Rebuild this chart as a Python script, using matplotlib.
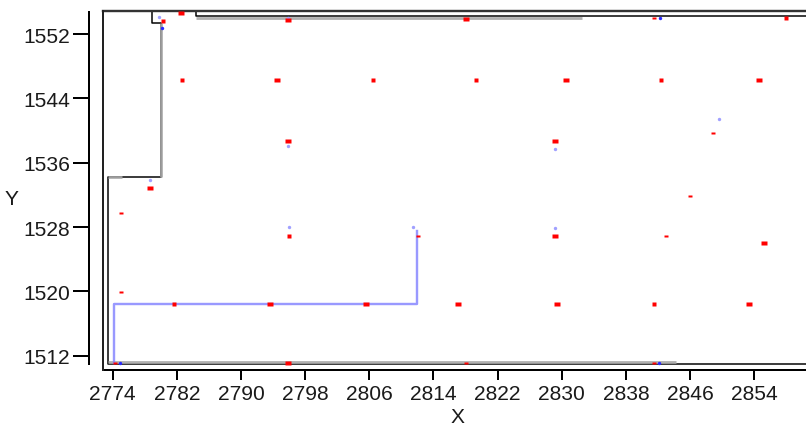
import matplotlib
matplotlib.use("Agg")
import matplotlib.pyplot as plt
import numpy as np

plt.rcParams['font.family'] = ['Liberation Sans', 'DejaVu Sans']

# ---- data ----
x_ticks = [2774, 2782, 2790, 2798, 2806, 2814, 2822, 2830, 2838, 2846, 2854]
y_ticks = [1512, 1520, 1528, 1536, 1544, 1552]

# red points: x, y, kind (w = wide, s = square, d = dash)
red_x = [2782.5, 2780.3, 2782.6, 2794.5, 2806.4, 2795.9, 2795.9, 2778.6,
         2818.05, 2841.5, 2857.9, 2819.3, 2830.5, 2842.4, 2854.55, 2848.9,
         2829.1, 2846.0, 2775.0, 2796.0, 2812.1, 2775.0, 2781.7, 2793.6,
         2805.6, 2774.3, 2795.9, 2829.15, 2843.0, 2855.25, 2817.1, 2829.4,
         2841.5, 2853.4, 2818.05, 2841.5]
red_y = [1554.6, 1553.6, 1546.3, 1546.3, 1546.3, 1538.7, 1553.8, 1532.9,
         1553.9, 1554.0, 1554.0, 1546.3, 1546.3, 1546.3, 1546.3, 1539.7,
         1538.7, 1531.9, 1529.8, 1526.9, 1526.85, 1519.9, 1518.4, 1518.4,
         1518.4, 1511.1, 1511.05, 1526.9, 1526.85, 1526.0, 1518.4, 1518.4,
         1518.4, 1518.4, 1511.1, 1511.1]
red_kind = ['w', 's', 's', 'w', 's', 'w', 'w', 'w',
            'w', 'd', 's', 's', 'w', 's', 'w', 'd',
            'w', 'd', 'd', 's', 'd', 'd', 's', 'w',
            'w', 'd', 'w', 'w', 'd', 'w', 'w', 'w',
            's', 'w', 'd', 'd']

blue_x = [2779.8, 2780.1, 2795.9, 2795.9, 2778.6, 2842.2, 2849.6, 2829.2,
          2796.0, 2811.4, 2774.9, 2829.15, 2842.1]
blue_y = [1554.1, 1552.8, 1538.05, 1554.0, 1533.85, 1554.0, 1541.4, 1537.7,
          1528.0, 1528.0, 1511.1, 1527.85, 1511.1]
blue_dark = [False, True, False, False, False, True, False, False,
             False, False, True, False, True]

# boundary paths
black_a_x = [2778.9, 2778.9, 2780.0, 2780.0, 2773.45, 2773.45, 2862.0]
black_a_y = [1554.87, 1553.4, 1553.4, 1534.2, 1534.2, 1511.0, 1511.0]
black_b_x = [2784.35, 2784.35, 2862.0]
black_b_y = [1554.87, 1554.2, 1554.2]

gray_segs = [
    ([2784.35, 2832.5], [1554.05, 1554.05]),
    ([2780.0, 2780.0], [1553.4, 1534.2]),
    ([2773.45, 2775.2], [1534.2, 1534.2]),
    ([2773.45, 2844.3], [1511.2, 1511.2]),
]

blue_path_x = [2774.2, 2774.2, 2812.0, 2812.0]
blue_path_y = [1511.1, 1518.4, 1518.4, 1527.5]

# ---- figure ----
W, H = 806, 427
fig = plt.figure(figsize=(W / 100, H / 100), dpi=100)
ax = fig.add_axes([103 / W, (427 - 371) / H, (806 - 103) / W, (371 - 12) / H])
ax.set_xlim(2772.79, 2860.45)
ax.set_ylim(1510.22, 1554.87)

px = 72 / 100  # points per pixel

# frame
ax.spines['right'].set_visible(False)
ax.spines['top'].set_color('#333333')
ax.spines['top'].set_linewidth(2.4 * px)
ax.spines['bottom'].set_color('black')
ax.spines['bottom'].set_linewidth(2.0 * px)
ax.spines['left'].set_position(('outward', 14 * px))
ax.spines['left'].set_bounds(1510.95, 1554.75)
ax.spines['left'].set_linewidth(2.0 * px)
ax.plot([0, 0], [0, 1], transform=ax.transAxes, color='#222222',
        lw=2.0 * px, clip_on=False, zorder=5)

# lines
ax.plot(black_a_x, black_a_y, color='black', lw=1.5 * px, zorder=2)
ax.plot(black_b_x, black_b_y, color='black', lw=1.5 * px, zorder=2)
for gx, gy in gray_segs:
    ax.plot(gx, gy, color='#a8a8a8', lw=2.8 * px, alpha=0.9, zorder=3,
            solid_capstyle='butt')
ax.plot(blue_path_x, blue_path_y, color='#8080ff', lw=2.4 * px, alpha=0.8,
        zorder=3)

# markers
shapes = {
    'w': ([(-2.5, -1.6), (2.5, -1.6), (2.5, 1.6), (-2.5, 1.6)], 5.5),
    's': ([(-1.7, -1.7), (1.7, -1.7), (1.7, 1.7), (-1.7, 1.7)], 3.8),
    'd': ([(-1.8, -0.7), (1.8, -0.7), (1.8, 0.7), (-1.8, 0.7)], 4.0),
}
bx = np.array(blue_x)
by = np.array(blue_y)
bd = np.array(blue_dark)
ax.plot(bx[~bd], by[~bd], linestyle='none', marker='o', ms=3.4 * px,
        mfc='#a0a0ff', mec='none', zorder=4)
ax.plot(bx[bd], by[bd], linestyle='none', marker='o', ms=3.4 * px,
        mfc='#2a2aff', mec='none', zorder=4)

rx = np.array(red_x)
ry = np.array(red_y)
rk = np.array(red_kind)
for k, (verts, size) in shapes.items():
    m = rk == k
    ax.plot(rx[m], ry[m], linestyle='none', marker=verts, ms=size * px,
            mfc='#ff0000', mec='none', zorder=5)

# ticks
ax.set_xticks(x_ticks)
ax.set_yticks(y_ticks)
ax.tick_params(axis='x', length=10 * px, width=2.0 * px, pad=4 * px,
               labelsize=21 * px, color='black')
ax.tick_params(axis='y', length=16.5 * px, width=2.0 * px, pad=2.5 * px,
               labelsize=21 * px, color='black')
for lab in ax.get_xticklabels() + ax.get_yticklabels():
    lab.set_color('#1a1a1a')

ax.set_xlabel('X', fontsize=21 * px, color='#1a1a1a')
ax.set_ylabel('Y', fontsize=21 * px, rotation=0, color='#1a1a1a')
ax.xaxis.set_label_coords((458 - 103) / 703, (371 - 418) / 359)
ax.yaxis.set_label_coords((12 - 103) / 703, (371 - 200) / 359)
ax.xaxis.label.set_va('center')
ax.yaxis.label.set_va('center')
ax.yaxis.label.set_ha('center')

fig.savefig('out.png', dpi=100)
